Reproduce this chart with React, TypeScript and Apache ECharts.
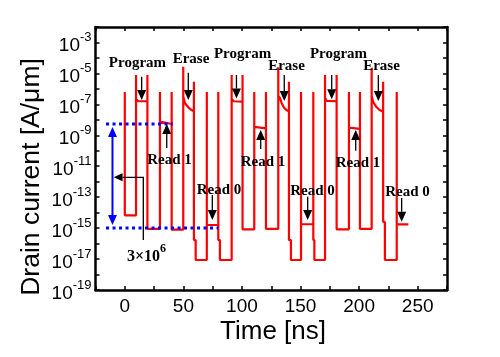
import React, { useEffect, useRef } from 'react';
import * as echarts from 'echarts';

// Time axis [ns] of the red drain-current trace
const TIME_NS = [
  0, 0, 9.6, 9.6, 9.6, 11.5, 19.3, 19.3, 19.3, 30, 30, 30, 40, 40, 40,
  49.9, 49.9, 49.9, 51.4, 54.2, 57, 59, 59, 59, 60.5, 60.5, 70, 70, 70, 79.8, 79.8, 79.8, 81.2, 81.2,
  91.2, 91.2, 91.2, 93, 100.5, 100.5, 100.5, 110.5, 110.5, 110.5, 120.5, 120.5, 120.5,
  131, 131, 131, 132.5, 133.9, 135.9, 138.2, 140.1, 140.1, 140.1, 141.8, 141.8, 150.4, 150.4, 150.4, 160.9, 160.9, 160.9, 161.8, 161.8,
  170.9, 170.9, 170.9, 172.5, 180.8, 180.8, 180.8, 191.3, 191.3, 191.3, 200.7, 200.7, 200.7,
  210.7, 210.7, 210.7, 212, 214.5, 217.5, 220.5, 220.5, 220.5, 222, 222, 232.1, 232.1, 232.1, 242,
];
// log10 of drain current [A/um]
const LOG_CURRENT = [
  -6.2, -14.17, -14.17, -5.1, -6.65, -6.8, -6.8, -5.1, -15.05, -15.05, -6.2, -8.12, -8.27, -6.2, -15.1,
  -15.1, -4.57, -6.5, -6.93, -7.19, -7.37, -7.45, -5.54, -15.77, -15.77, -17.06, -17.06, -6.2, -14.8, -14.8, -6.2, -15.77, -15.77, -17.06,
  -17.06, -5.1, -6.65, -6.8, -6.83, -5.1, -15.08, -15.08, -6.2, -8.45, -8.55, -6.2, -15.05,
  -15.05, -4.6, -6.45, -6.6, -6.93, -7.22, -7.37, -7.47, -5.54, -15.77, -15.77, -17.06, -17.06, -6.2, -14.75, -14.75, -6.2, -15.77, -15.77, -17.06,
  -17.06, -5.1, -6.6, -6.78, -6.8, -5.1, -15.08, -15.08, -6.2, -8.5, -8.58, -6.2, -15.05,
  -15.05, -4.67, -6.45, -6.85, -7.15, -7.37, -7.47, -5.54, -14.6, -14.6, -17.06, -17.06, -6.2, -14.76, -14.76,
];

const X_MIN = -25;
const X_MAX = 275;
const Y_MIN = -19;
const Y_MAX = -2;

// Annotation labels [time, log current]
const PROGRAM_LABELS = [[10.8, -4.26], [100.5, -3.66], [182.4, -3.66]];
const ERASE_LABELS = [[56.5, -4.0], [138, -4.46], [219.1, -4.46]];
const READ1_LABELS = [[38.1, -10.53], [118, -10.64], [199, -10.73]];
const READ0_LABELS = [[80.4, -12.47], [160.2, -12.54], [241.3, -12.6]];
// down arrows [time, from, tip]
const DOWN_ARROWS = [
  [14.4, -5.21, -6.72], [54.2, -4.95, -6.72], [95.3, -5.1, -6.62],
  [136.1, -5.1, -6.78], [176.6, -5.1, -6.67], [216.4, -5.1, -6.78],
  [74.7, -12.86, -14.48], [156.1, -12.97, -14.48], [236.3, -13.05, -14.59],
];
// up arrows [time, from, tip]
const UP_ARROWS = [[35.8, -9.82, -8.27], [116, -9.89, -8.66], [197.1, -10.0, -8.66]];
// on/off ratio markers
const ON_LEVEL = -8.27;
const OFF_LEVEL = -15.0;
const RATIO_ARROW_T = -10.5;
const ON_DOTTED = [-16, 40.9];
const OFF_DOTTED = [-16, 79.8];
const CONNECTOR = { t: 15.8, level: -11.72, tipT: -9.6, bottom: -15.77 };
const RATIO_TEXT = { t: 18.5, level: -16.6 };

const SANS = '"Liberation Sans", Arial, sans-serif';
const SERIF = '"Liberation Serif", "Times New Roman", serif';

export default function App() {
  const ref = useRef<HTMLDivElement>(null);
  useEffect(() => {
    const chart = echarts.init(ref.current!, null, { renderer: 'svg' });
    const axisLine = { show: true, onZero: false, lineStyle: { color: '#000', width: 2.5 } };
    const axisTick = { show: true, inside: true, length: 4, lineStyle: { color: '#000', width: 1.5 } };
    chart.setOption({
      animation: false,
      grid: { left: 95.5, right: 53, top: 27, bottom: 67, show: false },
      xAxis: [
        {
          type: 'value', min: X_MIN, max: X_MAX, interval: 25, position: 'bottom',
          axisLine, axisTick, splitLine: { show: false },
          axisLabel: {
            formatter: (v: number) => (v % 50 === 0 ? String(v) : ''),
            fontSize: 19, color: '#000', fontFamily: SANS, margin: 6,
          },
        },
        {
          type: 'value', min: X_MIN, max: X_MAX, interval: 25, position: 'top',
          axisLine, axisTick, splitLine: { show: false }, axisLabel: { show: false },
        },
      ],
      yAxis: [
        {
          type: 'value', min: Y_MIN, max: Y_MAX, interval: 1, position: 'left',
          axisLine, axisTick, splitLine: { show: false },
          axisLabel: {
            margin: 4,
            formatter: (v: number) => (Math.abs(v) % 2 === 1 ? `{b|10}{s|${v}}` : ''),
            rich: {
              b: { fontSize: 19, fontFamily: SANS, color: '#000', verticalAlign: 'bottom', lineHeight: 24 },
              s: { fontSize: 13, fontFamily: SANS, color: '#000', verticalAlign: 'top', lineHeight: 24 },
            },
          },
        },
        {
          type: 'value', min: Y_MIN, max: Y_MAX, interval: 1, position: 'right',
          axisLine, axisTick, splitLine: { show: false }, axisLabel: { show: false },
        },
      ],
      series: [
        {
          type: 'line', xAxisIndex: 0, yAxisIndex: 0,
          data: TIME_NS.map((t, i) => [t, LOG_CURRENT[i]]),
          showSymbol: false, symbol: 'none',
          lineStyle: { color: '#ff0000', width: 2.2 },
          z: 2,
        },
      ],
    });

    const P = (t: number, e: number) => chart.convertToPixel({ gridIndex: 0 }, [t, e]) as number[];
    const els: any[] = [];
    const text = (t: number, e: number, s: string) => {
      const [x, y] = P(t, e);
      els.push({
        type: 'text', x, y, z: 10,
        style: { text: s, fontSize: 15, fontWeight: 'bold', fontFamily: SERIF, fill: '#000', align: 'center', verticalAlign: 'middle' },
      });
    };
    PROGRAM_LABELS.forEach(([t, e]) => text(t, e, 'Program'));
    ERASE_LABELS.forEach(([t, e]) => text(t, e, 'Erase'));
    READ1_LABELS.forEach(([t, e]) => text(t, e, 'Read 1'));
    READ0_LABELS.forEach(([t, e]) => text(t, e, 'Read 0'));

    const vArrow = (t: number, from: number, tip: number, color: string, w: number, hw: number, hh: number) => {
      const [x, y0] = P(t, from);
      const [, y1] = P(t, tip);
      const dir = y1 > y0 ? 1 : -1;
      els.push({ type: 'line', z: 10, shape: { x1: x, y1: y0, x2: x, y2: y1 - dir * hh }, style: { stroke: color, lineWidth: w } });
      els.push({ type: 'polygon', z: 10, shape: { points: [[x - hw / 2, y1 - dir * hh], [x + hw / 2, y1 - dir * hh], [x, y1]] }, style: { fill: color } });
    };
    DOWN_ARROWS.forEach(([t, a, b]) => vArrow(t, a, b, '#000', 1.3, 9, 10));
    UP_ARROWS.forEach(([t, a, b]) => vArrow(t, a, b, '#000', 1.3, 9, 10));

    // blue dotted levels
    const dotted = (range: number[], e: number) => {
      const [x1, y] = P(range[0], e);
      const [x2] = P(range[1], e);
      els.push({ type: 'line', z: 9, shape: { x1, y1: y, x2, y2: y }, style: { stroke: '#0000ff', lineWidth: 3, lineDash: [3, 3.5] } });
    };
    dotted(ON_DOTTED, ON_LEVEL);
    dotted(OFF_DOTTED, OFF_LEVEL);
    // blue double arrow
    {
      const [x, yTop] = P(RATIO_ARROW_T, ON_LEVEL);
      const [, yBot] = P(RATIO_ARROW_T, OFF_LEVEL);
      const hh = 10, hw = 9;
      els.push({ type: 'line', z: 10, shape: { x1: x, y1: yTop + 3 + hh, x2: x, y2: yBot - 3 - hh }, style: { stroke: '#0000ff', lineWidth: 2 } });
      els.push({ type: 'polygon', z: 10, shape: { points: [[x - hw / 2, yTop + 3 + hh], [x + hw / 2, yTop + 3 + hh], [x, yTop + 3]] }, style: { fill: '#0000ff' } });
      els.push({ type: 'polygon', z: 10, shape: { points: [[x - hw / 2, yBot - 3 - hh], [x + hw / 2, yBot - 3 - hh], [x, yBot - 3]] }, style: { fill: '#0000ff' } });
    }
    // black connector to ratio label
    {
      const [xc, yc] = P(CONNECTOR.t, CONNECTOR.level);
      const [xt] = P(CONNECTOR.tipT, CONNECTOR.level);
      const [, yb] = P(CONNECTOR.t, CONNECTOR.bottom);
      els.push({ type: 'polyline', z: 10, shape: { points: [[xt + 9, yc], [xc, yc], [xc, yb]] }, style: { stroke: '#000', lineWidth: 1.3, fill: 'none' } });
      els.push({ type: 'polygon', z: 10, shape: { points: [[xt + 9, yc - 4], [xt + 9, yc + 4], [xt, yc]] }, style: { fill: '#000' } });
      const [x, y] = P(RATIO_TEXT.t, RATIO_TEXT.level);
      els.push({
        type: 'text', x, y, z: 10,
        style: {
          text: '{a|3×10}{b|6}', align: 'center', verticalAlign: 'middle',
          rich: {
            a: { fontSize: 16, fontWeight: 'bold', fontFamily: SERIF, fill: '#000', verticalAlign: 'bottom', lineHeight: 22 },
            b: { fontSize: 12, fontWeight: 'bold', fontFamily: SERIF, fill: '#000', verticalAlign: 'top', lineHeight: 22 },
          },
        },
      });
    }
    // axis titles
    els.push({
      type: 'text', x: 30, y: 177, rotation: Math.PI / 2, z: 10,
      style: { text: 'Drain current [A/μm]', fontSize: 26.5, fontFamily: SANS, fill: '#000', align: 'center', verticalAlign: 'middle' },
    });
    els.push({
      type: 'text', x: 273, y: 330, z: 10,
      style: { text: 'Time [ns]', fontSize: 26, fontFamily: SANS, fill: '#000', align: 'center', verticalAlign: 'middle' },
    });
    chart.setOption({ graphic: els });
    return () => chart.dispose();
  }, []);
  return <div ref={ref} style={{ position: 'fixed', left: 0, top: 0, width: 500, height: 357 }} />;
}
